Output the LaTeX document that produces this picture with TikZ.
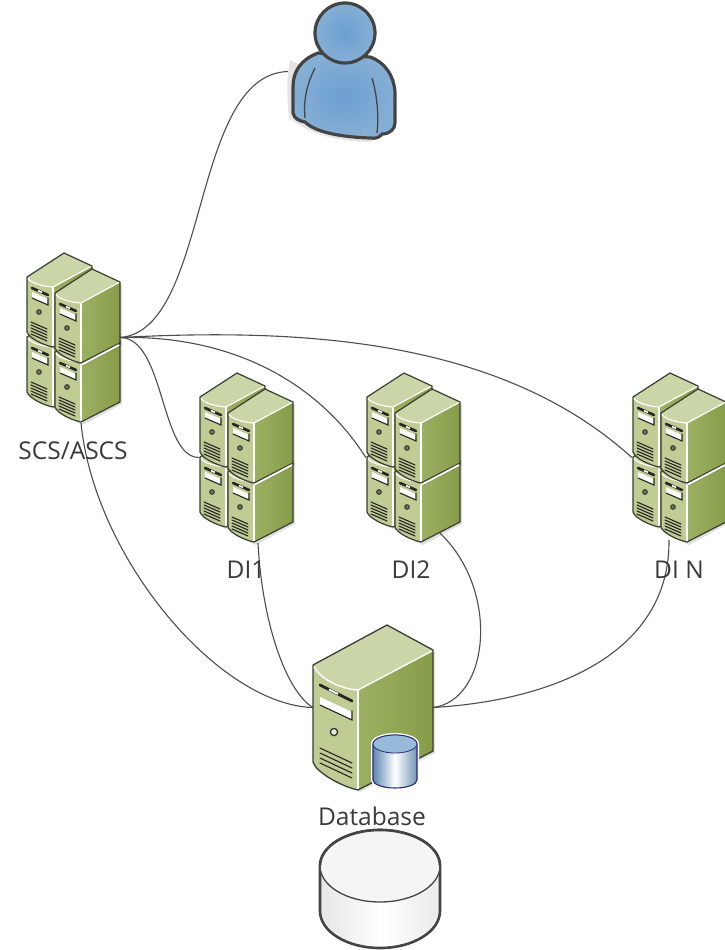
\documentclass[tikz,border=0pt]{standalone}
\usepackage{fontspec}
\setmainfont{Open Sans}
\definecolor{edge}{HTML}{3A3D33}
\definecolor{frontc}{HTML}{BFCC93}
\definecolor{topc}{HTML}{CBD6A8}
\definecolor{sidel}{HTML}{9DB163}
\definecolor{sider}{HTML}{879C49}
\definecolor{wire}{HTML}{4D4D4D}
\definecolor{txt}{HTML}{3A3A3A}
\definecolor{ink}{HTML}{444444}
\definecolor{blueA}{HTML}{6C9FD2}
\definecolor{blueB}{HTML}{86AFD5}
\tikzset{
  wirestyle/.style={draw=wire,line width=1.1pt},
  iconbox/.style={inner sep=0pt,minimum width=#1},
  lab/.style={font=\fontsize{24.5}{26}\selectfont,text=txt,inner sep=0pt},
  outline/.style={draw=edge,line width=1.2pt,line join=round},
  hilite/.style={draw=white,line width=1.2pt},
  dark/.style={draw=black!85,line cap=round}
}
\newcommand{\towerunit}[2]{%
\begin{scope}[shift={(#1,#2)}]
  \fill[black,opacity=.12] (-24,-8) -- (41,-19) -- (41,42) -- (2,63) -- (-24,50) -- cycle;
  \fill[topc] (0,0) .. controls (-10,-1) and (-22,-5) .. (-26,-10) -- (11,-34) -- (39,-21) -- cycle;
  \shade[left color=sidel,right color=sider] (0,0) -- (39,-21) -- (39,40) -- (0,60) -- cycle;
  \fill[frontc] (0,0) .. controls (-10,-1) and (-22,-5) .. (-26,-10) -- (-26,45) .. controls (-24,51) and (-10,58) .. (0,60) -- cycle;
  \draw[outline] (-26,-10) -- (11,-34) -- (39,-21) -- (39,40) -- (0,60) .. controls (-10,58) and (-24,51) .. (-26,45) -- cycle;
  \draw[hilite] (-25,-8.5) .. controls (-22,-4) and (-10,-0.5) .. (0,0) -- (38,-20.5);
  \draw[hilite] (0,0) -- (0,59);
  % front details
  \draw[dark,line width=2.6pt] (-21,1) -- (-5,8);
  \draw[white,line width=1.6pt] (-15,3.6) -- (-11,5.4);
  \fill[white] (-21,5) -- (-5,12) -- (-5,18) -- (-21,11) -- cycle;
  \draw[dark,line width=1.1pt] (-21,11) -- (-5,18) -- (-5,11);
  \draw[draw=black!80,fill=frontc!60!black,line width=1pt] (-14,25) circle (2.3);
  \foreach \k in {0,1,2,3,4}{\draw[dark,line width=1.1pt] (-22,35+3*\k) -- (-6,42+3*\k);}
\end{scope}}
\newcommand{\towerband}[2]{%
\begin{scope}[shift={(#1,#2)}]
  \draw[draw=white,line width=1.8pt] (1,61.5) -- (38,42);
\end{scope}}
\newcommand{\cluster}[2]{%
\begin{scope}[shift={(#1,#2)}]
  \towerunit{53}{347}
  \towerunit{53}{287}
  \towerunit{81}{362}
  \towerunit{81}{303}
  \towerband{81}{303}
\end{scope}}
\begin{document}
\begin{tikzpicture}[x=1pt,y=-1pt]
\useasboundingbox (0,0) rectangle (725,950);
% named icon frames
\node[iconbox=94,minimum height=171] (scs) at (73,337.5) {};
\node[iconbox=94,minimum height=171] (di1) at (246,457.5) {};
\node[iconbox=94,minimum height=171] (di2) at (413,457.5) {};
\node[iconbox=94,minimum height=171] (din) at (679,457.5) {};
\node[iconbox=120,minimum height=165] (db) at (373,707.5) {};
\node[iconbox=107,minimum height=137] (user) at (341.5,71.5) {};
\node[iconbox=120,minimum height=120] (disk) at (380,890) {};
% connectors
\draw[wirestyle] (scs.east) .. controls (210,330) and (190,75) .. (user.west);
\draw[wirestyle] (scs.east) .. controls (165,338) and (160,457) .. (di1.west);
\draw[wirestyle] (scs.east) .. controls (235,335) and (320,385) .. (di2.west);
\draw[wirestyle] (scs.east) .. controls (300,328) and (500,338) .. (din.west);
\draw[wirestyle] ([xshift=8pt]scs.south) .. controls (95,560) and (220,705) .. (db.west);
\draw[wirestyle] ([xshift=12pt]di1.south) .. controls (262,620) and (285,690) .. (db.west);
\draw[wirestyle] ([xshift=27pt,yshift=10pt]di2.south) .. controls (500,590) and (490,700) .. (db.east);
\draw[wirestyle] ([xshift=-10pt,yshift=3pt]din.south) .. controls (670,650) and (560,700) .. (db.east);
% server clusters
\cluster{0}{0}
\cluster{173}{120}
\cluster{340}{120}
\cluster{606}{120}
% database server
\fill[black,opacity=.12] (315,667) -- (435,652) -- (435,753) -- (360,792) -- (315,769) -- cycle;
\fill[topc] (358,690) .. controls (340,688) and (320,678) .. (313,665) -- (387,625) -- (433,650) -- cycle;
\shade[left color=sidel,right color=sider] (358,690) -- (433,650) -- (433,751) -- (358,790) -- cycle;
\fill[frontc] (358,690) .. controls (340,688) and (320,678) .. (313,665) -- (313,762) .. controls (316,772) and (340,786) .. (358,790) -- cycle;
\draw[outline,line width=1.3pt] (313,665) -- (387,625) -- (433,650) -- (433,751) -- (358,790) .. controls (340,786) and (316,772) .. (313,762) -- cycle;
\draw[hilite,line width=1.4pt] (314,667) .. controls (321,679) and (340,689) .. (358,690) -- (432,651);
\draw[hilite,line width=1.4pt] (358,690) -- (358,789);
\draw[dark,line width=2.8pt] (320,685) -- (352,701);
\draw[white,line width=2pt] (329,689.5) -- (338,694);
\fill[white] (320,697) -- (352,712) -- (352,720) -- (320,705) -- cycle;
\draw[dark,line width=1.1pt] (320,705) -- (352,720) -- (352,711);
\draw[draw=black!80,fill=frontc!40!white,line width=1.3pt] (334,732) circle (3.6);
\foreach \k in {0,1,2,3}{\draw[dark,line width=1.1pt] (320,748+5*\k) -- (352,763+5*\k);}
% small cylinder
\draw[white,line width=4pt] (373,744) -- (373,780) arc[start angle=180,end angle=0,x radius=22,y radius=8] -- (417,744) arc[start angle=0,end angle=-180,x radius=22,y radius=9] -- cycle;
\shade[left color=blueA!85!black,right color=blueB!85!black,middle color=white,draw=edge!70!blue,line width=1.1pt] (373,744) -- (373,780) arc[start angle=180,end angle=0,x radius=22,y radius=8] -- (417,744) arc[start angle=0,end angle=-180,x radius=22,y radius=9] -- cycle;
\draw[draw=edge!70!blue,fill=blueB!85!white,line width=.8pt] (395,744) ellipse[x radius=22,y radius=9];
% disk
\shade[left color=black!10,right color=black!8,middle color=white,draw=ink,line width=2.6pt] (320,866) -- (320,911) arc[start angle=180,end angle=0,x radius=60,y radius=37] -- (440,866) arc[start angle=0,end angle=-180,x radius=60,y radius=36] -- cycle;
\fill[black!4] (380,866) ellipse[x radius=60,y radius=36];
\draw[draw=ink,line width=2.6pt] (320,866) arc[start angle=180,end angle=360,x radius=60,y radius=36];
\draw[draw=ink,line width=1.3pt] (320,866) arc[start angle=180,end angle=0,x radius=60,y radius=36];
% person
\begin{scope}
\fill[black,opacity=.1] (290,60) .. controls (286,80) and (287,100) .. (289,118) .. controls (310,135) and (340,142) .. (372,142) -- (380,100) -- cycle;
\draw[draw=ink,line width=3.2pt,line join=round,inner color=blueA,outer color=blueB]
  (318,53) .. controls (300,60) and (293,72) .. (293,87)
  -- (293,113) .. controls (294,119) and (300,121) .. (305,122)
  .. controls (315,132) and (340,137) .. (370,138)
  .. controls (376,139) and (380,137) .. (382,134)
  .. controls (390,134) and (395,129) .. (395,123)
  -- (395,92) .. controls (394,76) and (385,62) .. (370,57) -- cycle;
\draw[draw=ink,line width=1.3pt] (315,68) .. controls (308,82) and (303,98) .. (305,118);
\draw[draw=ink,line width=1.3pt] (372,78) .. controls (377,95) and (379,115) .. (377,133);
\draw[draw=ink,line width=3.2pt,inner color=blueA,outer color=blueB] (345,33) circle (30);
\end{scope}
% labels
\node[lab] (tscs) at (73,451) {SCS/ASCS};
\node[lab] (tdi1) at (246,570) {DI1};
\node[lab] (tdi2) at (411,570) {DI2};
\node[lab] (tdin) at (679,570) {DI N};
\node[lab] (tdb) at (372,816) {Database};
\end{tikzpicture}
\end{document}
